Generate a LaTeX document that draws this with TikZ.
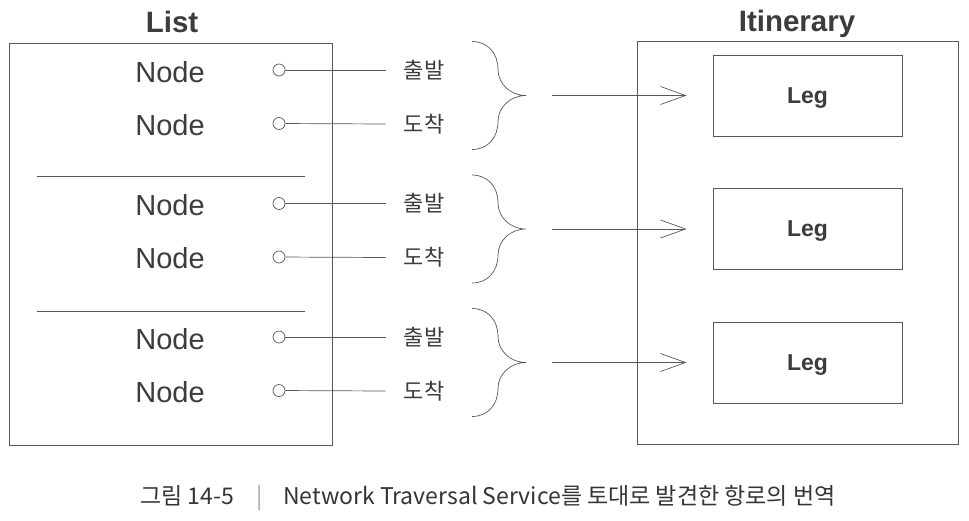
\documentclass[tikz,border=0pt]{standalone}
\usepackage{fontspec}
\setmainfont{Liberation Sans}
\newfontfamily\kr{Noto Sans CJK KR}
\usetikzlibrary{arrows.meta}
\definecolor{ln}{HTML}{585858}
\definecolor{tx}{HTML}{3C3C3C}
\definecolor{cp}{HTML}{353535}
\begin{document}
\begin{tikzpicture}[x=1pt,y=-1pt,
  frame/.style={draw=ln, line width=0.9pt, rectangle, inner sep=0pt},
  title/.style={font=\fontsize{29.5}{31}\selectfont\bfseries, text=tx, anchor=base, inner sep=0pt},
  nodetxt/.style={font=\fontsize{29}{31}\selectfont, text=tx, anchor=base, inner sep=0pt},
  legbox/.style={draw=ln, line width=0.9pt, minimum width=189pt, minimum height=81pt,
                 font=\fontsize{23}{25}\selectfont\bfseries, text=tx, inner sep=0pt, text depth=0pt},
  dot/.style={circle, draw=ln, line width=0.7pt, minimum size=12pt, inner sep=0pt},
  lab/.style={font=\kr\fontsize{22}{24}\selectfont, text=tx, inner xsep=18pt, inner ysep=0pt},
  wire/.style={draw=ln, line width=0.7pt},
  brace/.style={draw=ln, line width=0.7pt},
  arr/.style={draw=ln, line width=0.7pt, -{Straight Barb[length=25pt,width=18pt,line width=0.7pt]}},
  captxt/.style={font=\kr\fontsize{23}{25}\selectfont, text=cp, anchor=base west, inner sep=0pt}
]
\useasboundingbox[fill=white] (0,0) rectangle (969,520);

% outer boxes
\node[frame, minimum width=323pt, minimum height=402pt] (list) at (170.5,244) {};
\node[frame, minimum width=321pt, minimum height=403pt] (itin) at (797.5,242.5) {};
\node[title] (listT) at (172,32) {List};
\node[title] (itinT) at (797,31) {Itinerary};

% separators
\coordinate (s1a) at (37,176); \coordinate (s1b) at (305,176);
\coordinate (s2a) at (37,311); \coordinate (s2b) at (305,311);
\draw[draw=ln, line width=0.9pt] (s1a) -- (s1b);
\draw[draw=ln, line width=0.9pt] (s2a) -- (s2b);

\foreach \g/\o/\c in {1/0/95.5, 2/133.5/229, 3/267/362.5}{
  \node[nodetxt] (nA\g) at (170,82+\o) {Node};
  \node[nodetxt] (nB\g) at (170,135+\o) {Node};
  \node[dot] (dA\g) at (279,70+\o) {};
  \node[dot] (dB\g) at (279,123.5+\o) {};
  \node[lab] (lA\g) at (424,70+\o) {출발};
  \node[lab] (lB\g) at (424,124+\o) {도착};
  \draw[wire] (dA\g) -- (lA\g.west);
  \draw[wire] (dB\g) -- (lB\g.west);
  \coordinate (bt\g) at (526,\c);
  \draw[brace] (472,\c-54) .. controls (488,\c-54) and (498,\c-42) .. (498,\c-26)
     .. controls (498,\c-12) and (510,\c) .. (bt\g)
     .. controls (510,\c) and (498,\c+12) .. (498,\c+26)
     .. controls (498,\c+42) and (488,\c+54) .. (472,\c+54);
  \node[legbox] (leg\g) at (807.5,\c) {Leg};
  \draw[arr, shorten <=26pt, shorten >=26pt] (bt\g) -- (leg\g.west);
}

% caption
\node[captxt] (cap1) at (140,504) {그림 14-5};
\node[captxt, text=gray!70] (bar) at (256,504) {|};
\node[captxt] (cap2) at (283,504) {Network Traversal Service를 토대로 발견한 항로의 번역};
\end{tikzpicture}
\end{document}
